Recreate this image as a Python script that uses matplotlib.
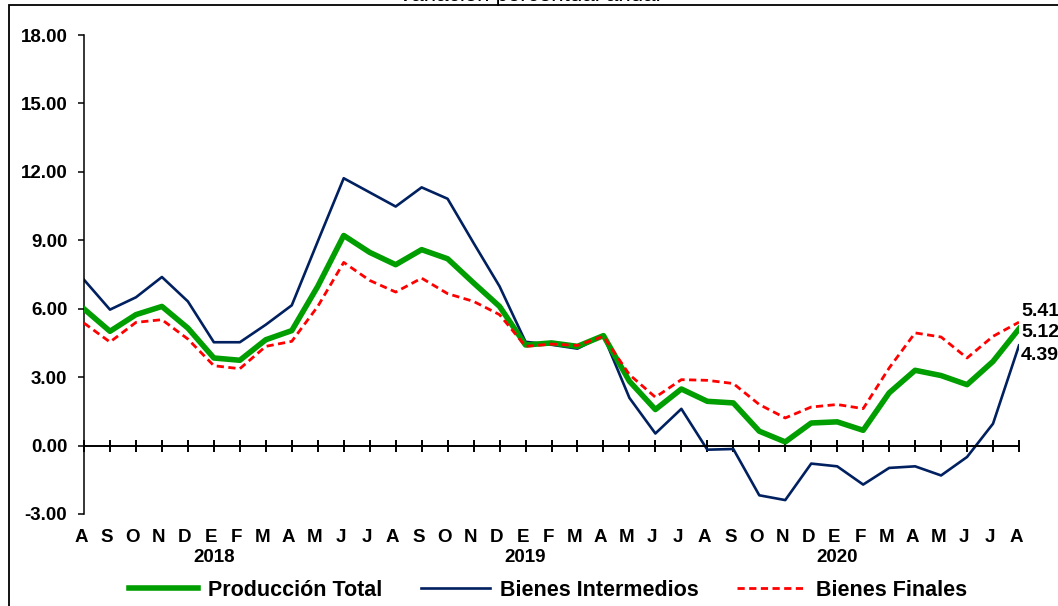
import matplotlib
matplotlib.use("Agg")
import matplotlib.pyplot as plt
from matplotlib.patches import Rectangle

plt.rcParams['font.family'] = ['Liberation Sans', 'DejaVu Sans']

# Meses desde agosto 2017 hasta agosto 2020
meses = ['A', 'S', 'O', 'N', 'D',
         'E', 'F', 'M', 'A', 'M', 'J', 'J', 'A', 'S', 'O', 'N', 'D',
         'E', 'F', 'M', 'A', 'M', 'J', 'J', 'A', 'S', 'O', 'N', 'D',
         'E', 'F', 'M', 'A', 'M', 'J', 'J', 'A']
anios = ['2018', '2019', '2020']
pos_anios = [5, 17, 29]  # posicion del mes de enero de cada año

produccion_total = [5.99, 5.01, 5.74, 6.10, 5.15, 3.84, 3.74, 4.64, 5.04, 6.98,
                    9.21, 8.47, 7.93, 8.59, 8.19, 7.13, 6.10, 4.41, 4.50, 4.35,
                    4.82, 2.82, 1.58, 2.48, 1.94, 1.87, 0.63, 0.16, 0.99, 1.04,
                    0.67, 2.31, 3.30, 3.07, 2.67, 3.69, 5.12]
bienes_intermedios = [7.27, 5.96, 6.50, 7.39, 6.32, 4.53, 4.53, 5.30, 6.15, 8.95,
                      11.72, 11.10, 10.48, 11.32, 10.82, 8.88, 6.98, 4.55, 4.42, 4.25,
                      4.82, 2.09, 0.53, 1.61, -0.18, -0.15, -2.18, -2.39, -0.79, -0.91,
                      -1.71, -0.98, -0.91, -1.31, -0.50, 0.96, 4.39]
bienes_finales = [5.37, 4.54, 5.40, 5.52, 4.67, 3.50, 3.37, 4.35, 4.57, 6.10,
                  8.03, 7.24, 6.73, 7.34, 6.66, 6.32, 5.74, 4.35, 4.45, 4.39,
                  4.79, 3.11, 2.12, 2.89, 2.86, 2.72, 1.80, 1.21, 1.69, 1.80,
                  1.62, 3.40, 4.94, 4.76, 3.84, 4.79, 5.41]

W, H = 1058, 606
fig = plt.figure(figsize=(W / 100, H / 100), dpi=100)
ax = fig.add_axes([84 / W, 1 - 514 / H, (1019 - 84) / W, (514 - 35) / H])

x = list(range(len(meses)))

# marco de la figura
fig.patches.append(Rectangle((9 / W, -0.1), 1.2, 1 - 5 / H + 0.1, transform=fig.transFigure,
                             fill=False, edgecolor='black', linewidth=1.3, zorder=0))
fig.text(0.5, 1 - 1 / H, 'Variación porcentual anual', ha='center', va='baseline', fontsize=16)

l1, = ax.plot(x, produccion_total, color='#009E00', linewidth=4.0, label='Producción Total', zorder=3)
l2, = ax.plot(x, bienes_intermedios, color='#002060', linewidth=1.9, label='Bienes Intermedios', zorder=2)
l3, = ax.plot(x, bienes_finales, color='#FF0000', linewidth=2.0, linestyle=(0, (2.6, 1.6)),
              label='Bienes Finales', zorder=4)

ax.set_xlim(0, 36)
ax.set_ylim(-3, 18)
ax.set_yticks([-3, 0, 3, 6, 9, 12, 15, 18])
ax.set_yticklabels([f'{v:.2f}' for v in [-3, 0, 3, 6, 9, 12, 15, 18]], fontsize=13.5, fontweight='bold')
ax.tick_params(axis='y', length=4, width=1.1, pad=8)

ax.spines['top'].set_visible(False)
ax.spines['right'].set_visible(False)
ax.spines['left'].set_linewidth(1.1)
ax.spines['bottom'].set_position(('data', 0))
ax.spines['bottom'].set_linewidth(1.4)
ax.set_xticks(x)
ax.tick_params(axis='x', direction='inout', length=8, width=1.4, labelbottom=False)

for i, m in enumerate(meses):
    ax.annotate(m, xy=(i, 0), xycoords=('data', 'axes fraction'), xytext=(-3, -24),
                textcoords='offset pixels', ha='center', va='center', fontsize=13.5, fontweight='bold')
for p, a in zip(pos_anios, anios):
    ax.annotate(a, xy=(p, 0), xycoords=('data', 'axes fraction'), xytext=(0, -44),
                textcoords='offset pixels', ha='center', va='center', fontsize=13.5, fontweight='bold')

# etiquetas del ultimo dato
ult = len(meses) - 1
for serie, dy in [(bienes_finales, 11), (produccion_total, -4), (bienes_intermedios, -10)]:
    ax.annotate(f'{serie[ult]:.2f}', xy=(ult, serie[ult]), xytext=(2, dy), textcoords='offset pixels',
                ha='left', va='center', fontsize=14, fontweight='bold', annotation_clip=False)

leg = fig.legend(handles=[l1, l2, l3], loc='center', bbox_to_anchor=(548 / W, 1 - 590 / H), ncol=3,
                 frameon=False, handlelength=3.2, handletextpad=0.47, columnspacing=1.8,
                 prop={'size': 15.5, 'weight': 'bold'})

fig.savefig('out.png', dpi=100)
